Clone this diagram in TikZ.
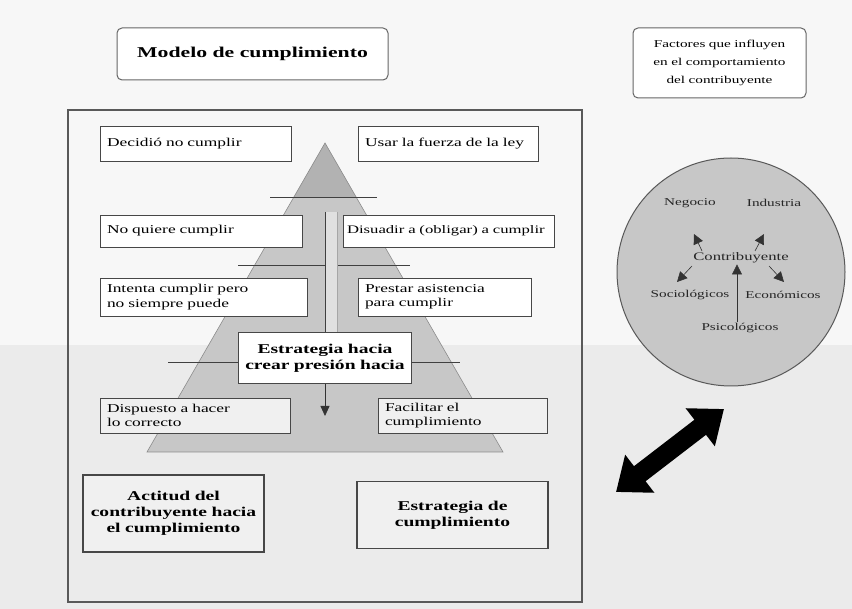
\documentclass[tikz,border=0pt]{standalone}
\usepackage{fontspec}
\setmainfont{Liberation Serif}[FakeStretch=1.45]
\usetikzlibrary{arrows.meta}
\begin{document}
\begin{tikzpicture}[x=1pt,y=-1pt,
  lbox/.style={draw=black!72, line width=0.9pt, fill=white, align=left, inner xsep=7pt, inner ysep=0pt,
     font=\fontsize{12}{14.5}\selectfont, text=black},
  lboxd/.style={lbox, fill=black!6},
  bbox/.style={draw=black!72, line width=1.6pt, fill=black!6, align=center, inner sep=0pt,
     font=\fontsize{13.5}{16}\selectfont\bfseries, text=black},
  tbox/.style={draw=black!60, line width=1pt, rounded corners=5pt, fill=white, align=center, inner sep=0pt, text=black},
  clab/.style={font=\fontsize{10.5}{12}\selectfont, text=black!85, inner sep=1pt},
  carr/.style={black!80, line width=0.6pt, -{Triangle[length=10pt,width=10pt]}},
  pline/.style={black!75, line width=0.8pt}
]
% background
\fill[black!3] (0,0) rectangle (852,345);
\fill[black!8] (0,345) rectangle (852,609);
\useasboundingbox (0,0) rectangle (852,609);

% outer frame
\draw[black!65, line width=1.4pt] (68,110) rectangle (582,602);

% pyramid
\fill[black!22] (325,143) -- (503,452) -- (147,452) -- cycle;
\fill[black!30] (325,143) -- (356.1,197) -- (293.9,197) -- cycle;
\draw[black!45, line width=0.6pt] (325,143) -- (503,452) -- (147,452) -- cycle;
\draw[pline] (270,197) -- (377,197);
\draw[pline] (238,265) -- (410,265);
\draw[pline] (168,362) -- (460,362);

% central shaft and arrow
\coordinate (shaft) at (325,212);
\coordinate (shaftr) at (337,212);
\coordinate (tip) at (325,416);
\fill[black!12] (325,212) rectangle (337,334);

% text boxes
\node[lbox, text width=177pt, minimum height=35pt] (dec) at (195.5,143.5) {Decidió no cumplir};
\node[lbox, text width=166pt, minimum height=35pt] (usar) at (448,143.5) {Usar la fuerza de la ley};
\node[lbox, text width=188pt, minimum height=32pt] (noq) at (201,231) {No quiere cumplir};
\node[lbox, inner xsep=4pt, text width=203pt, minimum height=32pt, font=\fontsize{11.5}{14}\selectfont] (dis) at (448.5,231) {Disuadir a (obligar) a cumplir};
\node[lbox, text width=193pt, minimum height=38pt] (int) at (203.5,297) {Intenta cumplir pero\\no siempre puede};
\node[lbox, text width=159pt, minimum height=38pt] (pre) at (444.5,297) {Prestar asistencia\\para cumplir};
\node[lboxd, text width=176pt, minimum height=35pt] (dsp) at (195,415.5) {Dispuesto a hacer\\lo correcto};
\node[lboxd, text width=155pt, minimum height=35pt] (fac) at (462.5,415.5) {Facilitar el\\cumplimiento};
\node[bbox, line width=1pt, text width=173pt, minimum height=51pt, fill=white] (est) at (325,358.5) {Estrategia hacia\\crear presión hacia};

\draw[black!75, line width=0.8pt] (shaft) -- (est.north);
\draw[black!35, line width=0.8pt] (shaftr) -- (est.north -| shaftr);
\draw[black!80, line width=0.8pt, -{Triangle[length=10pt,width=9pt]}] (est.south) -- (tip);

\node[bbox, text width=181pt, minimum height=77pt] (act) at (173.5,513.5) {Actitud del\\contribuyente hacia\\el cumplimiento};
\node[bbox, text width=191pt, minimum height=67pt] (estc) at (452.5,515) {Estrategia de\\cumplimiento};

% title boxes
\node[tbox, minimum width=271pt, minimum height=52pt, font=\fontsize{15}{18}\selectfont\bfseries] (title) at (252.5,54) {Modelo de cumplimiento};
\node[tbox, text width=173pt, minimum height=70pt, font=\fontsize{10.5}{18}\selectfont] (fact) at (719.5,63) {Factores que influyen\\en el comportamiento\\del contribuyente};

% circle
\draw[black!65, line width=1pt, fill=black!22] (731,272) circle[radius=114];
\node[clab] (neg) at (690,203) {Negocio};
\node[clab] (ind) at (774,203) {Industria};
\node[clab, font=\fontsize{11.5}{13}\selectfont] (con) at (741,258) {Contribuyente};
\node[clab] (soc) at (690,295) {Sociológicos};
\node[clab] (eco) at (783,295) {Económicos};
\node[clab] (psi) at (740,328) {Psicológicos};
\coordinate (a1s) at (702,251); \coordinate (a1e) at (694,234);
\coordinate (a2s) at (755,251); \coordinate (a2e) at (764,234);
\coordinate (a3s) at (692,266); \coordinate (a3e) at (677,282);
\coordinate (a4s) at (769,266); \coordinate (a4e) at (784,282);
\draw[carr] (a1s) -- (a1e);
\draw[carr] (a2s) -- (a2e);
\draw[carr] (a3s) -- (a3e);
\draw[carr] (a4s) -- (a4e);
\draw[carr] (psi.north -| 737,0) -- (con.south -| 737,0);

% double arrow
\coordinate (da1) at (616,492);
\coordinate (da2) at (724,409);
\draw[black, line width=19pt, {Triangle[length=30pt,width=46pt]}-{Triangle[length=30pt,width=46pt]}] (da1) -- (da2);
\end{tikzpicture}
\end{document}
